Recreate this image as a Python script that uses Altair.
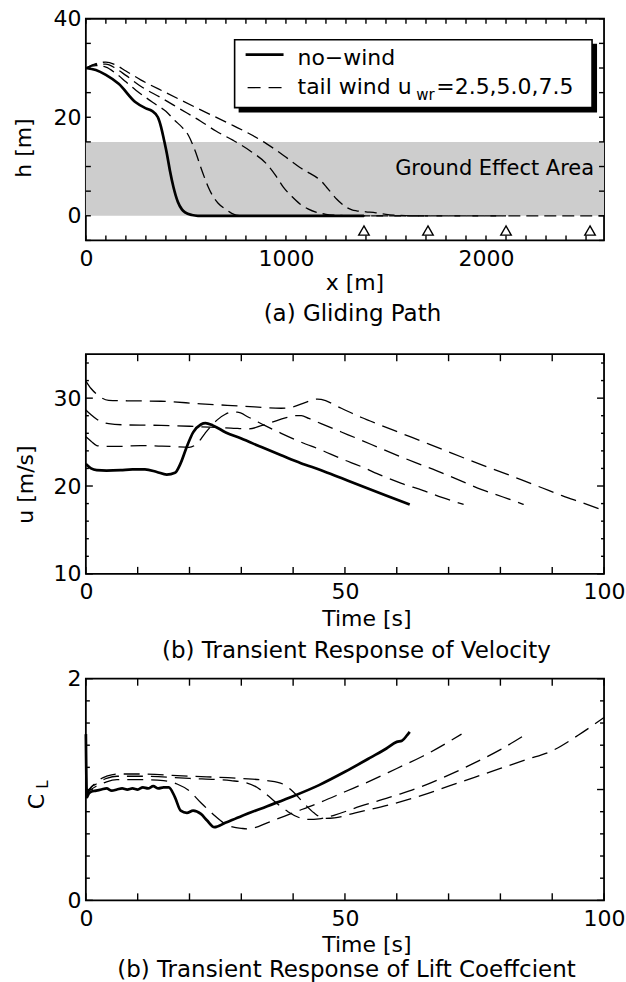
import altair as alt
import pandas as pd

FONT = "DejaVu Sans"

# ---------------- (a) Gliding path ----------------
A_X_NOWIND = [0, 50, 100, 164, 247, 300, 330, 360, 376, 390, 405, 420, 438, 460, 480, 496, 530, 560, 1390]
A_H_NOWIND = [30, 29.6, 28.6, 26.8, 23.1, 21.8, 21.3, 20.0, 18.0, 15.5, 12.6, 9.2, 5.8, 2.8, 1.3, 0.7, 0.15, 0, 0]

A_X_W25 = [0, 50, 100, 150, 200, 250, 300, 350, 400, 446, 480, 513, 546, 580, 610, 629, 660, 696, 729, 770, 1710]
A_H_W25 = [30, 30.5, 30.2, 28.9, 27.2, 25.5, 24.0, 22.6, 21.2, 19.3, 18.0, 16.3, 13.2, 9.2, 6.0, 4.4, 2.6, 1.4, 0.5, 0, 0]

A_X_W50 = [0, 50, 100, 150, 200, 274, 374, 474, 574, 650, 737, 820, 904, 950, 987, 1030, 1070, 1110, 1153, 1200, 1260, 1300, 2100]
A_H_W50 = [30, 30.7, 30.8, 29.9, 28.5, 26.3, 24.0, 21.6, 19.2, 17.2, 15.3, 13.2, 10.5, 8.1, 5.8, 3.9, 2.4, 1.4, 0.7, 0.3, 0.1, 0, 0]

A_X_W75 = [0, 50, 100, 150, 200, 274, 400, 574, 737, 820, 904, 990, 1070, 1120, 1153, 1180, 1203, 1230, 1253, 1280, 1303, 1330, 1353, 1400, 1450, 1500, 1560, 1620, 2590]
A_H_W75 = [30, 30.9, 31.2, 30.6, 29.4, 27.6, 25.0, 21.5, 18.3, 16.6, 14.6, 12.2, 9.8, 8.6, 7.8, 6.9, 5.8, 4.5, 3.4, 2.4, 1.7, 1.2, 1.0, 0.8, 0.6, 0.3, 0.1, 0, 0]

A_LAND_X = [1390, 1710, 2100, 2520]
A_LAND_H = [-3, -3, -3, -3]
A_GROUND = [0, 15]

A_XTICK_LABELS = [0, 1000, 2000]
A_YTICK_LABELS = [0, 20, 40]

# ---------------- (b) Velocity ----------------
B_T_NOWIND = [0, 1, 2.1, 4, 6.7, 9, 11.4, 13.7, 15.6, 17.2, 18.3, 19.5, 20.7, 22.2, 23.1, 24.5, 27, 30, 34, 37.7, 41.5, 45.4, 49.3, 53.2, 57.8, 62.5]
B_U_NOWIND = [22.5, 22.0, 21.8, 21.75, 21.8, 21.9, 21.9, 21.6, 21.3, 21.5, 22.6, 24.5, 26.1, 27.0, 27.15, 26.9, 26.1, 25.4, 24.4, 23.5, 22.6, 21.8, 20.9, 20.0, 18.95, 17.9]

B_T_W25 = [0, 1, 2.1, 3.6, 6, 10.6, 14, 16.8, 19.9, 21.4, 23, 25.3, 27, 28, 29.2, 31.5, 34.5, 37.7, 41.5, 45.4, 49.3, 53.2, 57, 60.9, 65, 68.7, 72.9]
B_U_W25 = [25.6, 25.1, 24.6, 24.5, 24.5, 24.6, 24.55, 24.5, 24.4, 24.8, 26.0, 27.5, 28.2, 28.4, 28.4, 27.8, 26.9, 26.0, 25.0, 24.1, 23.1, 22.2, 21.2, 20.3, 19.5, 18.7, 17.9]

B_T_W50 = [0, 1, 2.1, 4.4, 8, 14.5, 20, 23.8, 28, 31.5, 34, 36.1, 38.5, 40.4, 41.6, 43, 45.4, 49.3, 53.2, 57, 60.9, 64.8, 68.7, 72.5, 76.4, 80.5, 84.5]
B_U_W50 = [28.65, 28.1, 27.6, 27.1, 26.95, 26.9, 26.8, 26.7, 26.6, 26.5, 26.9, 27.3, 27.75, 28.0, 28.0, 27.7, 27.1, 26.15, 25.2, 24.25, 23.3, 22.4, 21.5, 20.55, 19.6, 18.75, 17.9]

B_T_W75 = [0, 1, 2.1, 4.4, 8, 14.5, 22.2, 30, 37.7, 40, 42.3, 44.7, 45.4, 49.3, 53.2, 57, 60.9, 64.8, 68.7, 72.5, 76.4, 80.3, 84.1, 88, 91.9, 96, 100]
B_U_W75 = [31.95, 31.1, 30.45, 29.75, 29.7, 29.65, 29.35, 29.1, 28.85, 29.0, 29.5, 29.9, 29.85, 28.85, 27.8, 26.9, 26.0, 25.1, 24.2, 23.3, 22.4, 21.55, 20.7, 19.8, 18.9, 18.05, 17.2]

B_XTICK_LABELS = [0, 50, 100]
B_YTICK_LABELS = [10, 20, 30]

# ---------------- (c) Lift coefficient ----------------
C_T_NOWIND = [0, 0.2, 0.5, 1, 2, 3, 4, 5, 6, 7, 8, 9, 10, 11, 12, 13, 14, 15, 16, 17.2, 18.3, 19.5, 20.7, 22.2, 23.4, 24.8, 26.9, 30, 35, 40, 45, 50, 55, 58, 60, 61, 62, 62.5]
C_CL_NOWIND = [1.5, 0.93, 0.96, 0.98, 0.99, 1.0, 1.01, 0.99, 1.0, 1.01, 1.0, 1.01, 1.0, 1.02, 1.01, 1.03, 1.01, 1.02, 1.02, 0.93, 0.81, 0.79, 0.81, 0.78, 0.72, 0.66, 0.70, 0.76, 0.85, 0.94, 1.04, 1.16, 1.29, 1.37, 1.43, 1.44, 1.49, 1.52]

C_T_W25 = [0, 0.5, 1, 2, 3, 4, 6, 10, 15, 17.6, 19.9, 22.2, 24.5, 26.9, 28.5, 30, 31, 32.5, 35, 40, 45, 50, 55, 60, 65, 70, 72.5]
C_CL_W25 = [0.93, 0.98, 1.0, 1.03, 1.05, 1.07, 1.09, 1.09, 1.08, 1.05, 0.99, 0.88, 0.78, 0.69, 0.66, 0.65, 0.645, 0.655, 0.70, 0.79, 0.88, 0.98, 1.08, 1.19, 1.30, 1.43, 1.50]

C_T_W50 = [0, 0.5, 1, 2, 3, 4, 6, 10, 20, 28, 31, 33, 35, 37, 39, 41, 43, 45, 48, 53, 60, 65, 70, 75, 80, 85]
C_CL_W50 = [0.95, 0.99, 1.02, 1.05, 1.08, 1.10, 1.12, 1.12, 1.10, 1.08, 1.06, 1.02, 0.95, 0.87, 0.80, 0.75, 0.73, 0.735, 0.77, 0.85, 0.95, 1.03, 1.13, 1.24, 1.36, 1.50]

C_T_W75 = [0, 0.5, 1, 2, 3, 4, 6, 10, 20, 30, 35, 38, 40, 42, 44, 46, 48, 52, 60, 65, 70, 75, 80, 85, 90, 95, 100]
C_CL_W75 = [0.93, 0.98, 1.02, 1.06, 1.10, 1.12, 1.14, 1.14, 1.12, 1.10, 1.08, 1.05, 0.98, 0.88, 0.79, 0.74, 0.745, 0.79, 0.88, 0.95, 1.03, 1.11, 1.19, 1.27, 1.35, 1.49, 1.65]

C_XTICK_LABELS = [0, 50, 100]
C_YTICK_LABELS = [0, 1, 2]

# ---------------- texts ----------------
CAPTIONS = ["(a) Gliding Path", "(b) Transient Response of Velocity",
            "(b) Transient Response of Lift Coeffcient"]
LEGEND_TEXT = ["no\u2212wind", "tail wind u", "wr", "=2.5,5.0,7.5"]
GROUND_TEXT = "Ground Effect Area"

W = 519
ONE = pd.DataFrame({"k": [0]})


def series_df(xs, ys, name):
    return pd.DataFrame({"x": xs, "y": ys, "s": name, "i": range(len(xs))})


def x_axis(values, title, tx, ty):
    return alt.Axis(values=values, title=title, titleX=tx, titleY=ty, titleBaseline="middle",
                    titleAlign="center", grid=False, ticks=False, tickSize=0, domain=False,
                    labelPadding=8, labelFlush=False, labelOverlap=False, format="d")


def y_axis(values, title, tx, ty):
    kw = dict(values=values, grid=False, ticks=False, tickSize=0, domain=False,
              labelPadding=5, labelOverlap=False, labelFlush=False, format="d")
    if title:
        kw.update(title=title, titleX=tx, titleY=ty, titleBaseline="middle", titleAngle=270)
    else:
        kw.update(title=None)
    return alt.Axis(**kw)


class Panel:
    def __init__(self, H, xs, ys, xax, yax):
        self.H, self.xs, self.ys, self.xax, self.yax = H, xs, ys, xax, yax

    def X(self, f):
        return alt.X(f, scale=self.xs, axis=self.xax)

    def Y(self, f):
        return alt.Y(f, scale=self.ys, axis=self.yax)

    def ticks(self, positions, length, horizontal):
        df = pd.DataFrame({"v": positions})
        base = alt.Chart(df).mark_rule(color="black", strokeWidth=1.4)
        H = self.H
        if horizontal:
            return [base.encode(x=self.X("v:Q"), y=alt.value(H), y2=alt.value(H - length)),
                    base.encode(x=self.X("v:Q"), y=alt.value(0), y2=alt.value(length))]
        return [base.encode(y=self.Y("v:Q"), x=alt.value(0), x2=alt.value(length)),
                base.encode(y=self.Y("v:Q"), x=alt.value(W), x2=alt.value(W - length))]

    def lines(self, solid_df, dashed_df, dash):
        solid = alt.Chart(solid_df).mark_line(interpolate="monotone", color="black", strokeWidth=2.7).encode(
            x=self.X("x:Q"), y=self.Y("y:Q"), order="i:Q")
        dashed = alt.Chart(dashed_df).mark_line(interpolate="monotone", color="black", strokeWidth=1.3,
                                                strokeDash=dash).encode(
            x=self.X("x:Q"), y=self.Y("y:Q"), detail="s:N", order="i:Q")
        return [solid, dashed]

    def bounds(self, top, bottom):
        return alt.Chart(ONE).mark_rule(opacity=0, strokeOpacity=0).encode(
            x=alt.value(-85), x2=alt.value(W), y=alt.value(-top), y2=alt.value(self.H + bottom))


def text_at(txt, x, y, size, align="center", baseline="middle", angle=None):
    kw = dict(text=txt, font=FONT, fontSize=size, align=align, baseline=baseline, color="black")
    if angle is not None:
        kw["angle"] = angle
    return alt.Chart(ONE).mark_text(**kw).encode(x=alt.value(x), y=alt.value(y))


# ---------------- panel (a) ----------------
pa = Panel(222, alt.Scale(domain=[0, 2590], nice=False, zero=False),
           alt.Scale(domain=[-5, 40], nice=False, zero=False),
           x_axis(A_XTICK_LABELS, "x [m]", 269, 42), y_axis(A_YTICK_LABELS, "h [m]", -62, 129))
a_solid = series_df(A_X_NOWIND, A_H_NOWIND, "no-wind")
a_dashed = pd.concat([series_df(A_X_W25, A_H_W25, "2.5"), series_df(A_X_W50, A_H_W50, "5.0"),
                      series_df(A_X_W75, A_H_W75, "7.5")])
ground = alt.Chart(pd.DataFrame({"lo": [A_GROUND[0]], "hi": [A_GROUND[1]]})).mark_rect(color="#cdcdcd").encode(
    x=alt.value(0), x2=alt.value(W), y=pa.Y("lo:Q"), y2="hi:Q")
land = alt.Chart(pd.DataFrame({"x": A_LAND_X, "y": A_LAND_H})).mark_point(
    shape="triangle-up", size=110, filled=True, fill="white", stroke="black", strokeWidth=1.4, opacity=1).encode(
    x=pa.X("x:Q"), y=pa.Y("y:Q"))
leg_shadow = alt.Chart(ONE).mark_rect(color="black").encode(
    x=alt.value(153), x2=alt.value(512), y=alt.value(25), y2=alt.value(94))
leg_box = alt.Chart(ONE).mark_rect(fill="white", stroke="black", strokeWidth=1.6).encode(
    x=alt.value(149), x2=alt.value(507), y=alt.value(21), y2=alt.value(89))
leg_l1 = alt.Chart(ONE).mark_rule(color="black", strokeWidth=2.8).encode(
    x=alt.value(160), x2=alt.value(198), y=alt.value(36))
leg_l2 = alt.Chart(ONE).mark_rule(color="black", strokeWidth=1.3, strokeDash=[13, 8]).encode(
    x=alt.value(162), x2=alt.value(198), y=alt.value(69))

panel_a = alt.layer(
    ground,
    *pa.lines(a_solid, a_dashed, [12, 6]),
    land,
    *pa.ticks(list(range(0, 2600, 100)), 5, True),
    *pa.ticks(list(range(-5, 41, 5)), 5, False),
    leg_shadow, leg_box, leg_l1, leg_l2,
    text_at(LEGEND_TEXT[0], 212, 46, 22, align="left", baseline="alphabetic"),
    text_at(LEGEND_TEXT[1], 212, 75, 22, align="left", baseline="alphabetic"),
    text_at(LEGEND_TEXT[2], 331, 81, 15, align="left", baseline="alphabetic"),
    text_at(LEGEND_TEXT[3], 351, 75, 22, align="left", baseline="alphabetic"),
    text_at(GROUND_TEXT, 509, 150, 21, align="right"),
    text_at(CAPTIONS[0], 267, pa.H + 74, 23),
    pa.bounds(17, 95),
).properties(width=W, height=pa.H)

# ---------------- panel (b) ----------------
pb = Panel(220, alt.Scale(domain=[0, 100], nice=False, zero=False),
           alt.Scale(domain=[10, 35], nice=False, zero=False),
           x_axis(B_XTICK_LABELS, "Time [s]", 281, 45), y_axis(B_YTICK_LABELS, "u [m/s]", -60, 130))
b_solid = series_df(B_T_NOWIND, B_U_NOWIND, "no-wind")
b_dashed = pd.concat([series_df(B_T_W25, B_U_W25, "2.5"), series_df(B_T_W50, B_U_W50, "5.0"),
                      series_df(B_T_W75, B_U_W75, "7.5")])
panel_b = alt.layer(
    *pb.lines(b_solid, b_dashed, [16, 8]),
    *pb.ticks(list(range(0, 101, 10)), 7, True),
    *pb.ticks([v for v in range(12, 35, 2) if v % 10], 3, False),
    *pb.ticks([10, 20, 30], 7, False),
    text_at(CAPTIONS[1], 271, pb.H + 77, 23),
    pb.bounds(17, 90),
).properties(width=W, height=pb.H)

# ---------------- panel (c) ----------------
pc = Panel(222, alt.Scale(domain=[0, 100], nice=False, zero=False),
           alt.Scale(domain=[0, 2], nice=False, zero=False),
           x_axis(C_XTICK_LABELS, "Time [s]", 281, 44), y_axis(C_YTICK_LABELS, None, 0, 0))
c_solid = series_df(C_T_NOWIND, C_CL_NOWIND, "no-wind")
c_dashed = pd.concat([series_df(C_T_W25, C_CL_W25, "2.5"), series_df(C_T_W50, C_CL_W50, "5.0"),
                      series_df(C_T_W75, C_CL_W75, "7.5")])
panel_c = alt.layer(
    *pc.lines(c_solid, c_dashed, [16, 8]),
    *pc.ticks(list(range(0, 101, 10)), 7, True),
    *pc.ticks([0.2, 0.4, 0.6, 0.8, 1.2, 1.4, 1.6, 1.8], 4, False),
    *pc.ticks([0, 1, 2], 7, False),
    text_at("C", -49, 123, 22, angle=270),
    text_at("L", -43, 106, 15, angle=270),
    text_at(CAPTIONS[2], 261, pc.H + 70, 23),
    pc.bounds(13, 86),
).properties(width=W, height=pc.H)

chart = alt.vconcat(panel_a, panel_b, panel_c, spacing=0).properties(
    padding={"left": 0, "top": 0, "right": 0, "bottom": 0}
).configure_view(stroke="black", strokeWidth=1.8).configure_axis(
    labelFont=FONT, labelFontSize=22, labelColor="black",
    titleFont=FONT, titleFontSize=22, titleFontWeight="normal", titleColor="black"
)

chart.save("out.html", embed_options={"renderer": "svg", "actions": False})
